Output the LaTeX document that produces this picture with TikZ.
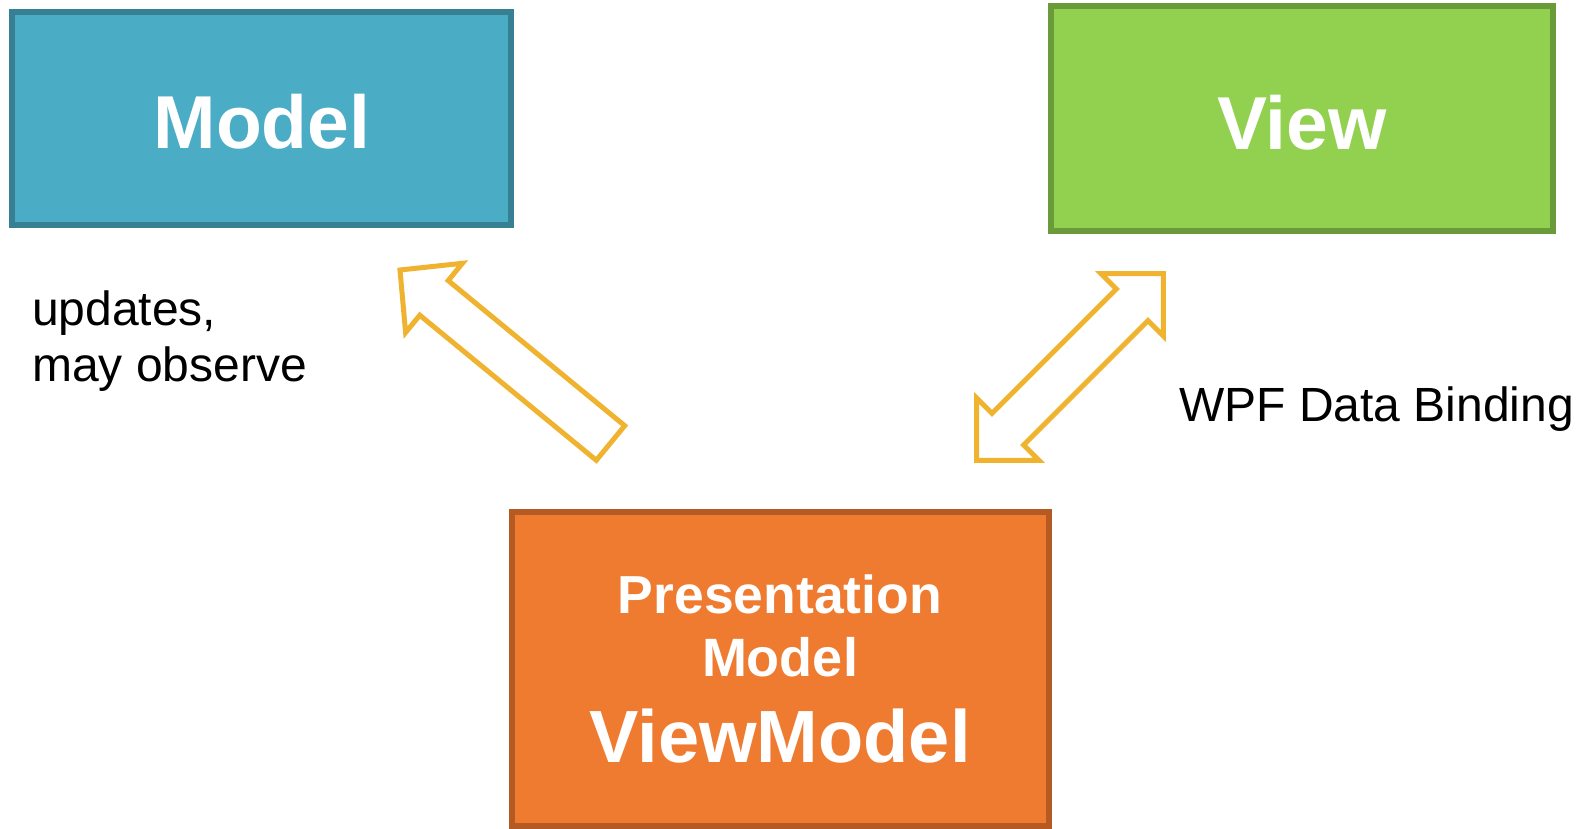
\documentclass[tikz,border=0pt]{standalone}
\usepackage{fontspec}
\setmainfont{Liberation Sans}
\definecolor{mfill}{HTML}{4BACC6}
\definecolor{mline}{HTML}{377F93}
\definecolor{vfill}{HTML}{92D050}
\definecolor{vline}{HTML}{6A9A3A}
\definecolor{vmfill}{HTML}{EF7B31}
\definecolor{vmline}{HTML}{B55A22}
\definecolor{arr}{HTML}{F0B32F}
\tikzset{
  boxstyle/.style={line width=6pt},
  blockarrow/.style={draw=arr, line width=5pt, line join=miter, fill=white},
  bigtxt/.style={text=white, font=\bfseries\fontsize{75}{80}\selectfont, inner sep=0pt, anchor=base},
  midtxt/.style={text=white, font=\bfseries\fontsize{54}{60}\selectfont, inner sep=0pt, anchor=base},
  lbl/.style={text=black, font=\fontsize{48}{56}\selectfont, inner sep=0pt, anchor=base west}
}
\begin{document}
\begin{tikzpicture}[x=1pt,y=-1pt]
\useasboundingbox[fill=white] (0,0) rectangle (1581,829);
% boxes
\draw[boxstyle, draw=mline, fill=mfill] (12,12) rectangle (511,225);
\draw[boxstyle, draw=vline, fill=vfill] (1051,6) rectangle (1553,231);
\draw[boxstyle, draw=vmline, fill=vmfill] (512,512) rectangle (1049,826);
% box texts
\node[bigtxt] (model) at (262,148.5) {Model};
\node[bigtxt] (view) at (1302,150) {View};
\node[midtxt, font=\bfseries\fontsize{53.5}{60}\selectfont] (pres) at (780,613) {Presentation};
\node[midtxt] (pmodel) at (780,676) {Model};
\node[bigtxt, font=\bfseries\fontsize{74}{80}\selectfont] (vm) at (780,762) {ViewModel};
% labels
\node[lbl] (upd) at (32,325) {updates,};
\node[lbl] (obs) at (32,381) {may observe};
\node[lbl] (wpf) at (1179,421) {WPF Data Binding};
% arrow ViewModel -> Model
\draw[blockarrow] (400,270) -- (462.4,263.3) -- (448.2,280.6) -- (624.7,425.7)
  -- (596.3,460.3) -- (419.8,315.2) -- (405.6,332.5) -- cycle;
% double arrow View <-> ViewModel
\draw[blockarrow] (1163.3,273.7) -- (1101.1,273.7) -- (1116.4,289.0) -- (992.0,413.4)
  -- (976.7,398.1) -- (976.7,460.3) -- (1038.9,460.3) -- (1023.6,445.0)
  -- (1148.0,320.6) -- (1163.3,335.9) -- cycle;
\end{tikzpicture}
\end{document}
